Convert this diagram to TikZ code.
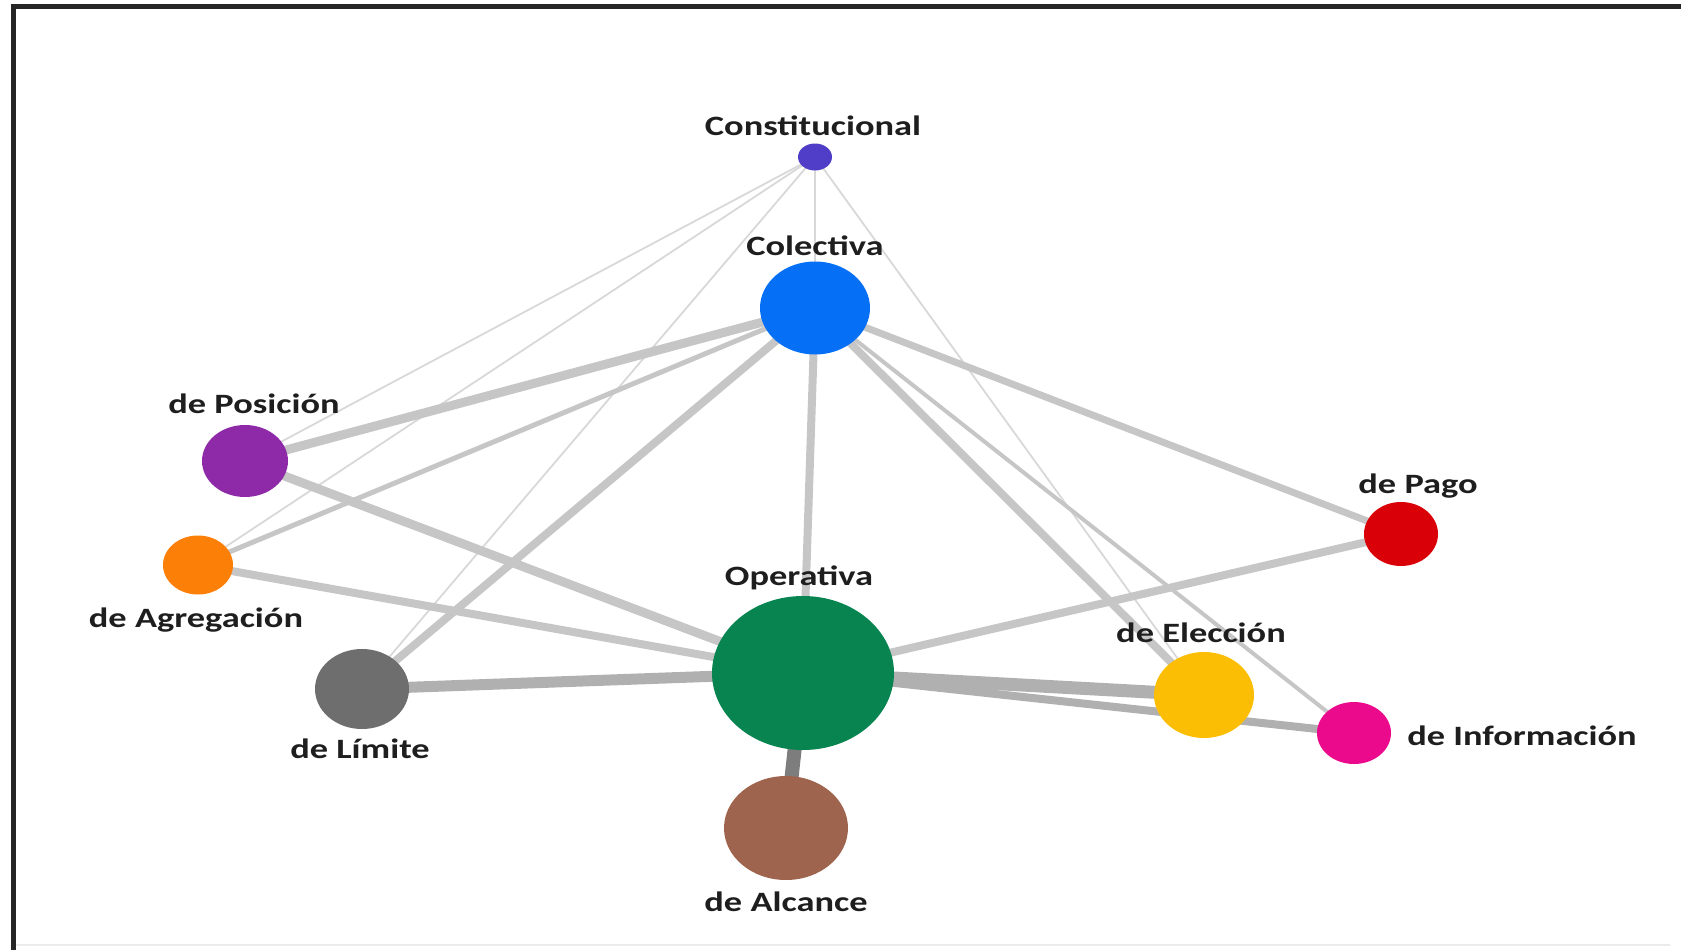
\documentclass[tikz,border=0pt]{standalone}
\usepackage{fontspec}
\setmainfont{Carlito}
\usetikzlibrary{shapes.geometric}
\pgfdeclarelayer{bg}
\pgfsetlayers{bg,main}
\definecolor{cConst}{RGB}{80,62,200}
\definecolor{cCol}{RGB}{5,112,245}
\definecolor{cPos}{RGB}{142,42,168}
\definecolor{cAgr}{RGB}{252,128,8}
\definecolor{cLim}{RGB}{110,110,110}
\definecolor{cOp}{RGB}{8,132,80}
\definecolor{cAlc}{RGB}{158,100,78}
\definecolor{cPago}{RGB}{218,0,8}
\definecolor{cElec}{RGB}{252,190,5}
\definecolor{cInfo}{RGB}{236,10,140}
\definecolor{labcol}{RGB}{30,30,30}
\definecolor{edgelight}{RGB}{216,216,216}
\definecolor{edgegray}{RGB}{198,198,198}
\definecolor{edgedark}{RGB}{176,176,176}
\definecolor{edgestem}{RGB}{125,125,125}
\tikzset{
  vertex/.style={ellipse, inner sep=0pt, draw=none},
  lab/.style={font=\bfseries\fontsize{28}{30}\selectfont, text=labcol, inner sep=0pt},
  thinlink/.style={line width=1.8pt, draw=edgelight},
  link/.style={draw=edgegray},
  darklink/.style={draw=edgedark},
  frame/.style={line width=5pt, draw=black!85},
}
\newcommand{\lbl}[1]{\scalebox{1.3}[1]{#1}}
\begin{document}
\begin{tikzpicture}[x=1pt,y=-1pt]
\useasboundingbox (0,0) rectangle (1681,950);
% frame
\draw[frame] (11,7) -- (1681,7);
\draw[frame] (13,5) -- (13,950);
\draw[line width=1.5pt, black!8] (16,945) -- (1670,945);
% nodes
\node[vertex, fill=cConst, minimum width=34pt, minimum height=27pt] (const) at (815,157) {};
\node[vertex, fill=cCol, minimum width=110pt, minimum height=93pt] (col) at (815,308) {};
\node[vertex, fill=cPos, minimum width=86pt, minimum height=72pt] (pos) at (245,461) {};
\node[vertex, fill=cAgr, minimum width=70pt, minimum height=59pt] (agr) at (198,565) {};
\node[vertex, fill=cLim, minimum width=94pt, minimum height=80pt] (lim) at (362,689) {};
\node[vertex, fill=cOp, minimum width=182pt, minimum height=154pt] (op) at (803,673) {};
\node[vertex, fill=cAlc, minimum width=124pt, minimum height=104pt] (alc) at (786,828) {};
\node[vertex, fill=cPago, minimum width=74pt, minimum height=64pt] (pago) at (1401,534) {};
\node[vertex, fill=cElec, minimum width=100pt, minimum height=86pt] (elec) at (1204,695) {};
\node[vertex, fill=cInfo, minimum width=74pt, minimum height=62pt] (info) at (1354,733) {};
% labels
\node[lab] (lconst) at (813,126) {\lbl{Constitucional}};
\node[lab] (lcol) at (815,246) {\lbl{Colectiva}};
\node[lab] (lpos) at (254,404) {\lbl{de Posición}};
\node[lab] (lagr) at (196,620) {\lbl{de Agregación}};
\node[lab] (llim) at (360,749) {\lbl{de Límite}};
\node[lab] (lop) at (799,578) {\lbl{Operativa}};
\node[lab] (lalc) at (786,902) {\lbl{de Alcance}};
\node[lab] (lpago) at (1418,486) {\lbl{de Pago}};
\node[lab] (lelec) at (1201,633) {\lbl{de Elección}};
\node[lab] (linfo) at (1522,736) {\lbl{de Información}};
% edges
\begin{pgfonlayer}{bg}
\draw[thinlink] (const.center) -- (pos.center);
\draw[thinlink] (const.center) -- (agr.center);
\draw[thinlink] (const.center) -- (lim.center);
\draw[thinlink] (const.center) -- (col.center);
\draw[thinlink] (const.center) -- (elec.center);
\draw[link, line width=9pt] (col.center) -- (pos.center);
\draw[link, line width=5pt] (col.center) -- (agr.center);
\draw[link, line width=8pt] (col.center) -- (lim.center);
\draw[link, line width=8pt] (col.center) -- (op.center);
\draw[link, line width=7pt] (col.center) -- (pago.center);
\draw[link, line width=8pt] (col.center) -- (elec.center);
\draw[link, line width=4pt] (col.center) -- (info.center);
\draw[link, line width=9pt] (pos.center) -- (op.center);
\draw[link, line width=8pt] (agr.center) -- (op.center);
\draw[darklink, line width=11pt] (lim.center) -- (op.center);
\draw[link, line width=8pt] (op.center) -- (pago.center);
\draw[darklink, line width=8pt] (op.center) -- (info.center);
\draw[darklink, line width=13pt] (op.center) -- (elec.center);
\draw[draw=edgestem, line width=14pt] (op.center) -- (alc.center);
\end{pgfonlayer}
\end{tikzpicture}
\end{document}
